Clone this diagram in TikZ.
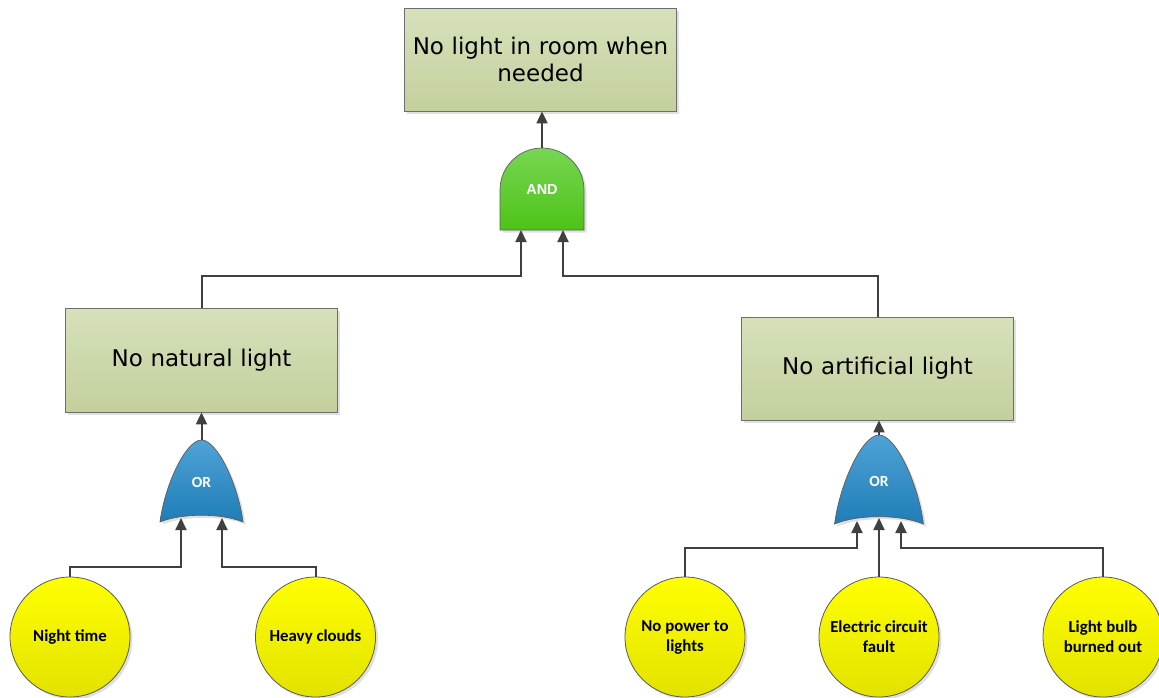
\documentclass[tikz,border=0pt]{standalone}
\usepackage{fontspec}
\setmainfont{DejaVu Sans}
\newfontfamily\evfont{Carlito}
\newfontfamily\andfont{Liberation Sans}
\usetikzlibrary{arrows.meta,shadows}
\definecolor{linec}{HTML}{404040}
\definecolor{boxline}{HTML}{6E6E6E}
\definecolor{boxtop}{HTML}{D6E1BB}
\definecolor{boxbot}{HTML}{C3D09D}
\definecolor{yeltop}{HTML}{FFFF00}
\definecolor{yelbot}{HTML}{E2E200}
\definecolor{ortop}{HTML}{4EA3D6}
\definecolor{orbot}{HTML}{1F7DB6}
\definecolor{andtop}{HTML}{76D652}
\definecolor{andbot}{HTML}{4EC318}
\tikzset{
  softshadow/.style={drop shadow={shadow xshift=2.5pt, shadow yshift=-2.5pt, opacity=0.2, fill=black!60}},
  box/.style={draw=boxline, line width=0.8pt, top color=boxtop, bottom color=boxbot,
    minimum width=271pt, text width=265pt, align=center,
    font=\fontsize{23}{27}\selectfont, softshadow},
  event/.style={circle, draw=gray!70!black, line width=0.8pt, top color=yeltop, bottom color=yelbot,
    minimum size=120pt, inner sep=0pt, align=center,
    font=\evfont\bfseries\fontsize{16.8}{20}\selectfont, softshadow},
  gatetxt/.style={text=white, inner sep=0pt},
  gateshape/.style={draw=linec!85, line width=0.7pt, softshadow},
  arr/.style={draw=linec, line width=2pt, -{Triangle[length=12pt,width=11pt]}},
  orgate/.pic={
    \path[gateshape, top color=ortop, bottom color=orbot]
      (-41.5,41) .. controls (-37,5) and (-16,-41) .. (0,-41)
      .. controls (16,-41) and (37,5) .. (41.5,41)
      .. controls (20,32) and (-20,32) .. (-41.5,41) -- cycle;
  }
}
\begin{document}
\begin{tikzpicture}[x=1pt,y=-1pt]
\useasboundingbox (0,0) rectangle (1159,697);

% boxes
\node[box, minimum height=103pt] (top) at (540.5,59.5) {No light in room when\\needed};
\node[box, minimum height=104pt] (nl) at (201.5,360) {No natural light};
\node[box, minimum height=103pt] (na) at (877.5,368.5) {No artificial light};

% basic events
\node[event] (nt) at (70,637) {Night time};
\node[event] (hc) at (315.5,637) {Heavy clouds};
\node[event] (np) at (685,637) {No power to\\lights};
\node[event] (ec) at (879,637) {Electric circuit\\fault};
\node[event] (lb) at (1103,637) {Light bulb\\burned out};

% AND gate
\path[gateshape, top color=andtop, bottom color=andbot]
  (500,230) -- (500,190) arc[start angle=180, end angle=0, radius=42pt] -- (584,230) -- cycle;
\node[gatetxt, font=\andfont\bfseries\fontsize{14.5}{17}\selectfont] (andg) at (542,190) {AND};
\coordinate (andtip) at (542,148);
\coordinate (andinL) at (521,230);
\coordinate (andinR) at (563,230);

% OR gates
\pic at (201.5,481) {orgate};
\node[gatetxt, font=\evfont\bfseries\fontsize{15.5}{18}\selectfont] (or1) at (201.5,482) {OR};
\coordinate (or1tip) at (201.5,440);
\coordinate (or1inL) at (181,518);
\coordinate (or1inR) at (222,518);

\pic[xscale=1.07, yscale=1.085] at (879,479.5) {orgate};
\node[gatetxt, font=\evfont\bfseries\fontsize{15.5}{18}\selectfont] (or2) at (879,481) {OR};
\coordinate (or2tip) at (879,435);
\coordinate (or2inL) at (857,521);
\coordinate (or2inM) at (879,518);
\coordinate (or2inR) at (901,521);

% bus levels
\coordinate (busTop) at (0,276);
\coordinate (busL) at (0,567);
\coordinate (busR) at (0,548);

% connectors
\draw[arr] (andtip) -- (andtip |- top.south);
\draw[arr] (nl.north) |- (andinL |- busTop) -- (andinL);
\draw[arr] (na.north) |- (andinR |- busTop) -- (andinR);

\draw[arr] (or1tip) -- (or1tip |- nl.south);
\draw[arr] (nt.north) |- (or1inL |- busL) -- (or1inL);
\draw[arr] (hc.north) |- (or1inR |- busL) -- (or1inR);

\draw[arr] (or2tip) -- (or2tip |- na.south);
\draw[arr] (np.north) |- (or2inL |- busR) -- (or2inL);
\draw[arr] (ec.north) -- (or2inM);
\draw[arr] (lb.north) |- (or2inR |- busR) -- (or2inR);
\end{tikzpicture}
\end{document}
